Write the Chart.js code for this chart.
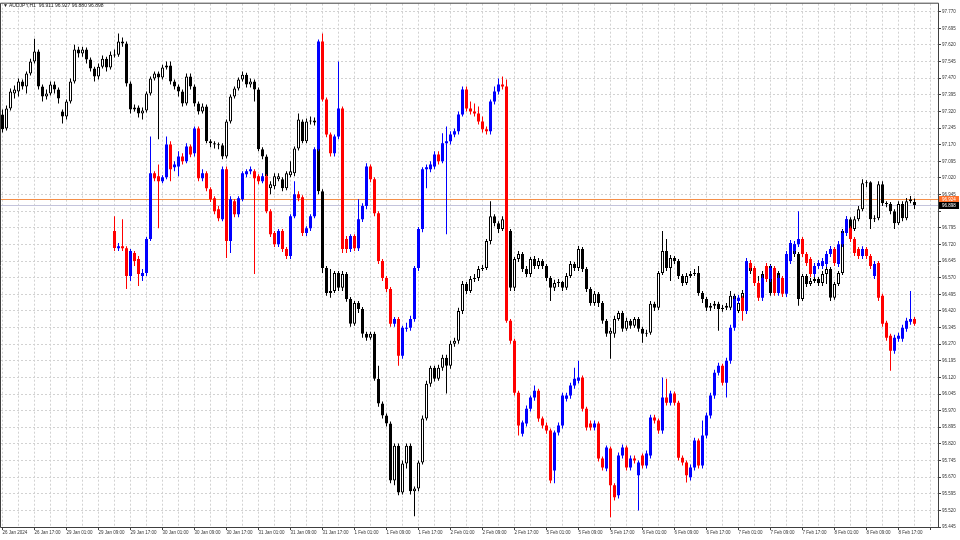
<!DOCTYPE html>
<html>
<head>
<meta charset="utf-8">
<script src="https://cdn.jsdelivr.net/npm/chart.js@4.4.1/dist/chart.umd.min.js"></script>
<style>
  html, body { margin: 0; padding: 0; background: #fff; }
  canvas { display: block; }
</style>
</head>
<body>
<canvas id="chart" width="960" height="540"></canvas>
<script>
// header / price tags
const symbolTitle = 'AUDJPY,H1';
const headerValues = ['96.911', '96.927', '96.880', '96.898'];
const bidPrice = 96.898;
const linePrice = 96.924;

// time axis: one label every 8 bars (H1)
const xLabels = ['26 Jan 2024', '26 Jan 17:00', '29 Jan 01:00', '29 Jan 09:00', '29 Jan 17:00',
    '30 Jan 01:00', '30 Jan 09:00', '30 Jan 17:00', '31 Jan 01:00', '31 Jan 09:00', '31 Jan 17:00',
    '1 Feb 01:00', '1 Feb 09:00', '1 Feb 17:00', '2 Feb 01:00', '2 Feb 09:00', '2 Feb 17:00',
    '5 Feb 01:00', '5 Feb 09:00', '5 Feb 17:00', '6 Feb 01:00', '6 Feb 09:00', '6 Feb 17:00',
    '7 Feb 01:00', '7 Feb 09:00', '7 Feb 17:00', '8 Feb 01:00', '8 Feb 09:00', '8 Feb 17:00'];

// price axis
const yTicks = [95.445, 95.520, 95.595, 95.670, 95.745, 95.820, 95.895, 95.970, 96.045, 96.120,
    96.195, 96.270, 96.345, 96.420, 96.495, 96.570, 96.645, 96.720, 96.795, 96.870, 96.945,
    97.020, 97.095, 97.170, 97.245, 97.320, 97.395, 97.470, 97.545, 97.620, 97.695, 97.770];
const hiddenTickLabels = [96.870];

// AUDJPY H1 candles (black / white)
const barOpen = [
    97.306, 97.243, 97.333, 97.401, 97.410, 97.455, 97.432, 97.491, 97.545, 97.590,
    97.432, 97.387, 97.401, 97.441, 97.419, 97.320, 97.297, 97.365, 97.455, 97.599,
    97.581, 97.599, 97.554, 97.514, 97.477, 97.522, 97.558, 97.518, 97.576, 97.576,
    97.635, 97.626, 97.446, 97.329, 97.338, 97.311, 97.324, 97.401, 97.468, 97.491,
    97.473, 97.518, 97.527, 97.455, 97.432, 97.410, 97.356, 97.477, 97.432, 97.356,
    97.320, 97.342, 97.185, 97.176, 97.171, 97.167, 97.117, 97.275, 97.387, 97.423,
    97.464, 97.486, 97.441, 97.455, 97.419, 97.149, 97.117, 96.973, 96.982, 97.014,
    97.014, 96.973, 97.032, 97.041, 97.153, 97.275, 97.185, 97.275, 97.279, 97.270,
    96.960, 96.614, 96.501, 96.510, 96.591, 96.524, 96.587, 96.474, 96.362, 96.456,
    96.429, 96.317, 96.299, 96.317, 96.114, 96.002, 95.948, 95.912, 95.655, 95.812,
    95.601, 95.732, 95.812, 95.606, 95.619, 95.736, 95.934, 96.091, 96.164, 96.114,
    96.164, 96.209, 96.173, 96.272, 96.285, 96.420, 96.541, 96.510, 96.564, 96.568,
    96.609, 96.614, 96.735, 96.847, 96.816, 96.789, 96.834, 96.780, 96.524, 96.654,
    96.677, 96.609, 96.587, 96.654, 96.623, 96.645, 96.623, 96.568, 96.524, 96.546,
    96.550, 96.524, 96.578, 96.632, 96.614, 96.699, 96.609, 96.519, 96.456, 96.497,
    96.456, 96.375, 96.317, 96.317, 96.384, 96.411, 96.339, 96.375, 96.353, 96.384,
    96.339, 96.317, 96.321, 96.452, 96.434, 96.591, 96.690, 96.614, 96.659, 96.645,
    96.578, 96.546, 96.578, 96.587, 96.591, 96.501, 96.474, 96.434, 96.443, 96.452,
    96.429, 96.434, 96.434, 96.488, 96.420, 96.456, 96.501, 96.636, 96.600, 96.546,
    96.541, 96.587, 96.623, 96.501, 96.591, 96.546, 96.501, 96.677, 96.721, 96.677,
    96.474, 96.578, 96.541, 96.555, 96.564, 96.546, 96.587, 96.609, 96.479, 96.541,
    96.591, 96.780, 96.834, 96.789, 96.834, 96.879, 96.996, 97.000, 96.834, 96.838,
    96.991, 96.906, 96.902, 96.870, 96.816, 96.902, 96.838, 96.915, 96.911];
const barHigh = [
    97.329, 97.347, 97.423, 97.437, 97.468, 97.464, 97.500, 97.558, 97.648, 97.599,
    97.441, 97.419, 97.455, 97.455, 97.428, 97.329, 97.374, 97.468, 97.621, 97.612,
    97.612, 97.608, 97.563, 97.522, 97.536, 97.572, 97.567, 97.590, 97.599, 97.671,
    97.653, 97.635, 97.455, 97.351, 97.347, 97.338, 97.410, 97.477, 97.500, 97.500,
    97.531, 97.545, 97.545, 97.464, 97.441, 97.419, 97.491, 97.491, 97.441, 97.365,
    97.356, 97.351, 97.194, 97.185, 97.180, 97.176, 97.284, 97.396, 97.432, 97.473,
    97.500, 97.495, 97.468, 97.464, 97.428, 97.158, 97.126, 97.005, 97.041, 97.041,
    97.023, 97.050, 97.095, 97.162, 97.311, 97.284, 97.288, 97.297, 97.293, 97.284,
    96.969, 96.623, 96.609, 96.600, 96.600, 96.600, 96.596, 96.483, 96.465, 96.465,
    96.438, 96.326, 96.326, 96.326, 96.173, 96.011, 95.957, 95.921, 95.822, 95.822,
    95.745, 95.822, 95.822, 95.628, 95.745, 95.948, 96.105, 96.173, 96.173, 96.177,
    96.222, 96.222, 96.285, 96.299, 96.434, 96.555, 96.550, 96.578, 96.587, 96.623,
    96.627, 96.744, 96.915, 96.856, 96.825, 96.847, 96.861, 96.789, 96.663, 96.690,
    96.686, 96.623, 96.663, 96.668, 96.659, 96.654, 96.632, 96.578, 96.560, 96.564,
    96.555, 96.591, 96.645, 96.641, 96.713, 96.708, 96.618, 96.528, 96.510, 96.505,
    96.465, 96.384, 96.344, 96.398, 96.420, 96.420, 96.389, 96.384, 96.393, 96.393,
    96.348, 96.335, 96.465, 96.461, 96.600, 96.780, 96.744, 96.672, 96.668, 96.654,
    96.587, 96.591, 96.600, 96.609, 96.623, 96.510, 96.483, 96.456, 96.465, 96.461,
    96.447, 96.456, 96.510, 96.497, 96.470, 96.514, 96.650, 96.645, 96.609, 96.578,
    96.600, 96.636, 96.632, 96.600, 96.600, 96.555, 96.690, 96.735, 96.731, 96.686,
    96.587, 96.587, 96.568, 96.578, 96.573, 96.600, 96.623, 96.618, 96.550, 96.600,
    96.789, 96.847, 96.843, 96.847, 96.893, 97.014, 97.009, 97.005, 96.852, 97.005,
    97.005, 96.915, 96.911, 96.879, 96.915, 96.915, 96.929, 96.938, 96.927];
const barLow = [
    97.225, 97.234, 97.324, 97.378, 97.387, 97.419, 97.401, 97.482, 97.536, 97.419,
    97.365, 97.374, 97.392, 97.401, 97.356, 97.266, 97.284, 97.356, 97.446, 97.563,
    97.567, 97.536, 97.500, 97.455, 97.464, 97.514, 97.500, 97.509, 97.563, 97.567,
    97.612, 97.432, 97.311, 97.320, 97.293, 97.284, 97.315, 97.392, 97.459, 97.194,
    97.464, 97.509, 97.441, 97.419, 97.387, 97.342, 97.347, 97.419, 97.342, 97.306,
    97.311, 97.176, 97.158, 97.153, 97.149, 97.104, 97.108, 97.266, 97.378, 97.414,
    97.455, 97.428, 97.428, 97.365, 97.140, 97.104, 97.014, 96.946, 96.969, 97.005,
    96.960, 96.964, 97.023, 97.027, 97.144, 97.176, 97.176, 97.261, 97.257, 96.946,
    96.591, 96.488, 96.479, 96.501, 96.510, 96.510, 96.461, 96.348, 96.353, 96.411,
    96.299, 96.285, 96.290, 96.105, 95.988, 95.934, 95.898, 95.642, 95.633, 95.588,
    95.592, 95.709, 95.592, 95.493, 95.606, 95.727, 95.925, 96.078, 96.101, 96.105,
    96.150, 96.047, 96.159, 96.258, 96.272, 96.406, 96.496, 96.501, 96.550, 96.555,
    96.600, 96.605, 96.721, 96.802, 96.771, 96.780, 96.766, 96.510, 96.510, 96.641,
    96.596, 96.573, 96.573, 96.609, 96.609, 96.609, 96.555, 96.465, 96.510, 96.528,
    96.510, 96.514, 96.568, 96.600, 96.600, 96.596, 96.505, 96.443, 96.443, 96.438,
    96.362, 96.303, 96.204, 96.299, 96.375, 96.326, 96.330, 96.339, 96.344, 96.326,
    96.276, 96.303, 96.312, 96.420, 96.424, 96.582, 96.600, 96.555, 96.632, 96.564,
    96.532, 96.537, 96.568, 96.578, 96.488, 96.456, 96.420, 96.420, 96.429, 96.330,
    96.416, 96.424, 96.424, 96.406, 96.411, 96.447, 96.492, 96.587, 96.532, 96.528,
    96.532, 96.573, 96.488, 96.492, 96.532, 96.488, 96.492, 96.668, 96.663, 96.443,
    96.465, 96.528, 96.532, 96.546, 96.532, 96.532, 96.541, 96.465, 96.470, 96.532,
    96.582, 96.771, 96.776, 96.780, 96.825, 96.870, 96.978, 96.789, 96.821, 96.829,
    96.893, 96.888, 96.856, 96.789, 96.807, 96.825, 96.829, 96.906, 96.880];
const barClose = [
    97.239, 97.333, 97.410, 97.419, 97.455, 97.432, 97.491, 97.545, 97.590, 97.432,
    97.387, 97.401, 97.441, 97.419, 97.378, 97.297, 97.365, 97.455, 97.599, 97.581,
    97.599, 97.554, 97.514, 97.477, 97.522, 97.558, 97.518, 97.576, 97.572, 97.635,
    97.626, 97.446, 97.329, 97.338, 97.311, 97.324, 97.401, 97.468, 97.491, 97.473,
    97.518, 97.527, 97.455, 97.432, 97.410, 97.356, 97.477, 97.432, 97.356, 97.320,
    97.342, 97.185, 97.176, 97.171, 97.167, 97.117, 97.275, 97.387, 97.423, 97.464,
    97.486, 97.441, 97.455, 97.419, 97.149, 97.117, 97.027, 96.991, 97.027, 97.027,
    96.973, 97.041, 97.050, 97.153, 97.284, 97.185, 97.275, 97.279, 97.270, 96.960,
    96.614, 96.501, 96.510, 96.591, 96.524, 96.587, 96.474, 96.362, 96.456, 96.429,
    96.317, 96.299, 96.317, 96.114, 96.002, 95.948, 95.912, 95.655, 95.812, 95.601,
    95.732, 95.812, 95.606, 95.619, 95.736, 95.934, 96.091, 96.164, 96.114, 96.164,
    96.209, 96.173, 96.272, 96.285, 96.420, 96.541, 96.510, 96.564, 96.568, 96.609,
    96.614, 96.735, 96.847, 96.816, 96.789, 96.834, 96.780, 96.524, 96.654, 96.677,
    96.609, 96.587, 96.654, 96.623, 96.645, 96.623, 96.568, 96.524, 96.546, 96.550,
    96.524, 96.578, 96.632, 96.614, 96.699, 96.609, 96.519, 96.456, 96.497, 96.456,
    96.375, 96.317, 96.330, 96.384, 96.411, 96.339, 96.375, 96.353, 96.384, 96.339,
    96.317, 96.321, 96.452, 96.434, 96.591, 96.690, 96.614, 96.659, 96.645, 96.578,
    96.546, 96.578, 96.587, 96.591, 96.501, 96.474, 96.434, 96.443, 96.452, 96.429,
    96.434, 96.443, 96.488, 96.420, 96.456, 96.501, 96.636, 96.600, 96.546, 96.541,
    96.587, 96.623, 96.501, 96.591, 96.546, 96.501, 96.677, 96.721, 96.677, 96.474,
    96.578, 96.541, 96.555, 96.564, 96.546, 96.587, 96.609, 96.479, 96.541, 96.591,
    96.780, 96.834, 96.789, 96.834, 96.879, 96.996, 97.000, 96.834, 96.838, 96.991,
    96.906, 96.902, 96.870, 96.816, 96.902, 96.838, 96.915, 96.924, 96.898];

// overlay candles (blue / red), first one on bar 28
const overlayStart = 28;
const ovOpen = [
    96.780, 96.703, 96.712, 96.703, 96.578, 96.681, 96.654, 96.578, 96.591, 96.744,
    97.041, 97.027, 97.005, 97.023, 97.171, 97.068, 97.072, 97.117, 97.095, 97.162,
    97.131, 97.243, 97.018, 97.041, 96.969, 96.928, 96.879, 96.834, 97.059, 96.735,
    96.915, 96.856, 96.924, 97.036, 97.050, 97.050, 97.027, 97.005, 97.027, 96.870,
    96.771, 96.721, 96.780, 96.699, 96.668, 96.847, 96.946, 96.933, 96.771, 96.793,
    96.847, 97.149, 97.635, 97.374, 97.216, 97.131, 97.207, 97.333, 96.744, 96.699,
    96.758, 96.703, 96.834, 96.893, 97.072, 97.014, 96.861, 96.645, 96.568, 96.519,
    96.362, 96.384, 96.218, 96.339, 96.344, 96.384, 96.614, 96.789, 97.059, 97.059,
    97.072, 97.126, 97.095, 97.176, 97.185, 97.216, 97.230, 97.306, 97.419, 97.333,
    97.320, 97.311, 97.275, 97.239, 97.230, 97.365, 97.410, 97.441, 97.432, 96.375,
    96.285, 96.051, 95.866, 95.912, 95.979, 96.029, 96.060, 95.934, 95.903, 95.880,
    95.700, 95.871, 95.903, 96.024, 96.038, 96.083, 96.105, 96.119, 95.979, 95.912,
    95.894, 95.912, 95.754, 95.709, 95.799, 95.633, 95.588, 95.768, 95.804, 95.714,
    95.754, 95.678, 95.768, 95.723, 95.768, 95.939, 95.925, 95.880, 96.029, 96.006,
    96.047, 96.006, 95.758, 95.736, 95.669, 95.714, 95.835, 95.723, 95.858, 95.948,
    96.038, 96.141, 96.173, 96.096, 96.195, 96.344, 96.465, 96.479, 96.420, 96.636,
    96.614, 96.546, 96.479, 96.623, 96.564, 96.614, 96.501, 96.568, 96.497, 96.645,
    96.690, 96.721, 96.744, 96.677, 96.654, 96.587, 96.623, 96.623, 96.632, 96.677,
    96.699, 96.632, 96.721, 96.771, 96.793, 96.744, 96.699, 96.668, 96.699, 96.668,
    96.578, 96.636, 96.488, 96.366, 96.308, 96.240, 96.294, 96.294, 96.339, 96.371, 96.384];
const ovHigh = [
    96.847, 96.726, 96.834, 96.712, 96.699, 96.690, 96.668, 96.609, 96.753, 97.207,
    97.050, 97.081, 97.032, 97.207, 97.185, 97.095, 97.140, 97.131, 97.176, 97.171,
    97.252, 97.252, 97.059, 97.050, 96.978, 96.937, 96.893, 97.072, 97.072, 96.937,
    96.924, 96.937, 97.050, 97.059, 97.072, 97.059, 97.036, 97.041, 97.036, 96.879,
    96.780, 96.789, 96.789, 96.708, 96.856, 97.005, 96.960, 96.942, 96.802, 96.856,
    97.158, 97.644, 97.671, 97.383, 97.225, 97.216, 97.545, 97.342, 96.758, 96.766,
    96.766, 96.924, 96.906, 97.086, 97.081, 97.023, 96.870, 96.654, 96.578, 96.528,
    96.393, 96.393, 96.353, 96.366, 96.398, 96.623, 96.798, 97.068, 97.081, 97.095,
    97.140, 97.140, 97.221, 97.252, 97.230, 97.243, 97.320, 97.432, 97.432, 97.365,
    97.356, 97.342, 97.297, 97.252, 97.374, 97.432, 97.468, 97.477, 97.464, 96.384,
    96.294, 96.060, 95.925, 95.993, 96.038, 96.083, 96.069, 95.943, 95.916, 95.889,
    95.880, 95.916, 96.051, 96.051, 96.096, 96.164, 96.195, 96.128, 95.988, 95.925,
    95.925, 95.921, 95.763, 95.813, 95.808, 95.642, 95.781, 95.817, 95.813, 95.768,
    95.768, 95.745, 95.777, 95.790, 95.952, 95.952, 95.934, 96.119, 96.114, 96.060,
    96.056, 96.015, 95.768, 95.745, 95.727, 95.848, 95.844, 95.925, 95.961, 96.051,
    96.155, 96.186, 96.182, 96.209, 96.357, 96.488, 96.492, 96.488, 96.659, 96.650,
    96.623, 96.555, 96.582, 96.636, 96.627, 96.623, 96.582, 96.578, 96.690, 96.740,
    96.735, 96.870, 96.753, 96.686, 96.663, 96.636, 96.650, 96.659, 96.690, 96.713,
    96.708, 96.735, 96.785, 96.847, 96.802, 96.753, 96.708, 96.712, 96.708, 96.677,
    96.645, 96.645, 96.497, 96.375, 96.317, 96.312, 96.321, 96.357, 96.389, 96.510, 96.393];
const ovLow = [
    96.690, 96.690, 96.690, 96.519, 96.555, 96.623, 96.532, 96.555, 96.578, 96.735,
    97.005, 96.793, 96.996, 97.014, 97.005, 97.050, 97.027, 97.081, 97.086, 97.113,
    97.117, 97.005, 97.005, 96.960, 96.911, 96.856, 96.825, 96.825, 96.659, 96.681,
    96.843, 96.843, 96.915, 97.023, 97.036, 96.587, 96.991, 96.996, 96.861, 96.753,
    96.708, 96.708, 96.686, 96.654, 96.654, 96.838, 96.915, 96.758, 96.758, 96.780,
    96.838, 97.140, 97.365, 97.203, 97.117, 97.117, 97.194, 96.681, 96.681, 96.686,
    96.690, 96.690, 96.821, 96.879, 97.000, 96.847, 96.632, 96.555, 96.505, 96.348,
    96.348, 96.173, 96.204, 96.326, 96.330, 96.371, 96.600, 96.775, 96.973, 97.045,
    97.059, 97.081, 97.086, 96.766, 97.171, 97.203, 97.216, 97.297, 97.320, 97.306,
    97.297, 97.261, 97.225, 97.216, 97.216, 97.351, 97.396, 97.419, 96.366, 96.272,
    96.038, 95.858, 95.853, 95.898, 95.966, 96.015, 95.920, 95.889, 95.866, 95.642,
    95.642, 95.858, 95.889, 96.011, 96.024, 96.069, 96.092, 95.966, 95.880, 95.880,
    95.880, 95.741, 95.700, 95.696, 95.489, 95.565, 95.574, 95.754, 95.700, 95.700,
    95.732, 95.520, 95.709, 95.709, 95.754, 95.912, 95.866, 95.866, 95.993, 95.993,
    95.993, 95.745, 95.723, 95.646, 95.655, 95.700, 95.709, 95.709, 95.844, 95.934,
    96.024, 96.128, 96.083, 96.029, 96.182, 96.330, 96.452, 96.375, 96.406, 96.600,
    96.532, 96.465, 96.465, 96.550, 96.550, 96.488, 96.488, 96.483, 96.483, 96.632,
    96.677, 96.708, 96.663, 96.623, 96.573, 96.573, 96.609, 96.609, 96.618, 96.663,
    96.623, 96.618, 96.708, 96.758, 96.731, 96.668, 96.654, 96.654, 96.654, 96.609,
    96.564, 96.465, 96.348, 96.285, 96.150, 96.227, 96.281, 96.281, 96.326, 96.357, 96.353];
const ovClose = [
    96.704, 96.712, 96.703, 96.578, 96.690, 96.645, 96.587, 96.591, 96.744, 97.041,
    97.018, 97.005, 97.023, 97.171, 97.059, 97.081, 97.117, 97.095, 97.162, 97.126,
    97.243, 97.018, 97.041, 96.973, 96.924, 96.870, 96.838, 97.059, 96.735, 96.924,
    96.856, 96.928, 97.041, 97.050, 97.059, 97.018, 97.005, 97.027, 96.870, 96.766,
    96.721, 96.780, 96.699, 96.668, 96.847, 96.946, 96.928, 96.771, 96.793, 96.847,
    97.149, 97.635, 97.374, 97.216, 97.131, 97.207, 97.333, 96.699, 96.699, 96.758,
    96.703, 96.834, 96.893, 97.072, 97.014, 96.861, 96.645, 96.568, 96.519, 96.362,
    96.384, 96.218, 96.344, 96.344, 96.384, 96.614, 96.789, 97.059, 97.068, 97.081,
    97.126, 97.095, 97.176, 97.185, 97.216, 97.230, 97.306, 97.419, 97.333, 97.320,
    97.311, 97.275, 97.239, 97.230, 97.365, 97.410, 97.441, 97.432, 96.375, 96.285,
    96.051, 95.903, 95.916, 95.979, 96.029, 96.060, 95.934, 95.903, 95.880, 95.655,
    95.871, 95.903, 96.038, 96.038, 96.083, 96.114, 96.119, 95.979, 95.894, 95.894,
    95.912, 95.754, 95.714, 95.804, 95.633, 95.579, 95.768, 95.804, 95.714, 95.754,
    95.745, 95.736, 95.723, 95.777, 95.939, 95.925, 95.880, 96.029, 96.006, 96.047,
    96.006, 95.758, 95.736, 95.678, 95.714, 95.835, 95.723, 95.858, 95.948, 96.038,
    96.141, 96.173, 96.096, 96.195, 96.344, 96.474, 96.479, 96.420, 96.645, 96.614,
    96.546, 96.479, 96.568, 96.564, 96.614, 96.501, 96.568, 96.497, 96.677, 96.726,
    96.721, 96.744, 96.677, 96.636, 96.587, 96.623, 96.636, 96.645, 96.677, 96.699,
    96.636, 96.721, 96.771, 96.834, 96.744, 96.681, 96.668, 96.699, 96.668, 96.623,
    96.632, 96.479, 96.362, 96.299, 96.240, 96.299, 96.308, 96.344, 96.375, 96.384, 96.362];

const axisFont = { family: 'Liberation Sans', size: 4.5 };
const textColor = '#333333';
const gridColor = '#d2d2d2';

// candle pieces
const blackWicks = barOpen.map((o, i) => ({ x: i, y: [barLow[i], barHigh[i]] }));
const blackBodies = barOpen.map((o, i) => ({ x: i, y: [o, barClose[i]] }));
const blackFill = barOpen.map((o, i) => barClose[i] >= o ? '#ffffff' : '#000000');

const ovWicks = ovOpen.map((o, k) => ({ x: overlayStart + k, y: [ovLow[k], ovHigh[k]] }));
const ovBodies = ovOpen.map((o, k) => ({ x: overlayStart + k, y: [o, ovClose[k]] }));
const ovColors = ovOpen.map((o, k) => ovClose[k] >= o ? '#0000ff' : '#ff0000');

const decorations = {
    id: 'decorations',
    beforeDatasetsDraw(chart) {
        const { ctx, chartArea: a, scales: { y } } = chart;
        ctx.save();
        ctx.lineWidth = 1;
        let py = Math.round(y.getPixelForValue(bidPrice)) + 0.5;
        ctx.strokeStyle = '#c4c4dc';
        ctx.beginPath(); ctx.moveTo(a.left, py); ctx.lineTo(a.right, py); ctx.stroke();
        py = Math.round(y.getPixelForValue(linePrice)) + 0.5;
        ctx.strokeStyle = '#f5904a';
        ctx.beginPath(); ctx.moveTo(a.left, py); ctx.lineTo(a.right, py); ctx.stroke();
        ctx.restore();
    },
    afterDraw(chart) {
        const { ctx, chartArea: a, scales: { y } } = chart;
        ctx.save();
        // frame
        ctx.strokeStyle = '#404040';
        ctx.lineWidth = 1;
        ctx.beginPath();
        ctx.moveTo(0.5, a.bottom + 0.5);
        ctx.lineTo(0.5, a.top - 0.5);
        ctx.lineTo(a.right + 0.5, a.top - 0.5);
        ctx.lineTo(a.right + 0.5, a.bottom + 0.5);
        ctx.lineTo(0.5, a.bottom + 0.5);
        ctx.stroke();

        // header
        ctx.fillStyle = '#222';
        ctx.textBaseline = 'middle';
        ctx.font = '5px "Liberation Sans"';
        ctx.fillText('\u25BC', 3, 6);
        ctx.fillText(symbolTitle + '  ' + headerValues.join(' '), 9, 6);

        // price tags
        const tag = (price, bg, fg) => {
            const py = Math.round(y.getPixelForValue(price));
            ctx.fillStyle = bg;
            ctx.fillRect(a.right + 1, py - 3, 20, 7);
            ctx.fillStyle = fg;
            ctx.font = '4.5px "Liberation Sans"';
            ctx.fillText(price.toFixed(3), a.right + 4, py + 0.5);
        };
        tag(linePrice, '#ff6e28', '#ffffff');
        tag(bidPrice, '#000000', '#ffffff');
        ctx.restore();
    }
};

new Chart(document.getElementById('chart').getContext('2d'), {
    type: 'bar',
    data: {
        datasets: [
            { data: blackWicks, backgroundColor: '#000000', barThickness: 1, order: 4 },
            { data: blackBodies, backgroundColor: blackFill, borderColor: '#000000', borderWidth: 1,
              borderSkipped: false, barThickness: 3, minBarLength: 1, order: 3 },
            { data: ovWicks, backgroundColor: ovColors, barThickness: 1, order: 2 },
            { data: ovBodies, backgroundColor: ovColors, barThickness: 3, minBarLength: 1, order: 1 }
        ]
    },
    options: {
        responsive: false,
        animation: false,
        devicePixelRatio: 1,
        layout: { padding: { left: 1, top: 2, right: 0, bottom: 0 } },
        datasets: { bar: { grouped: false, inflateAmount: 0 } },
        plugins: { legend: { display: false }, tooltip: { enabled: false } },
        scales: {
            x: {
                type: 'linear',
                min: -0.375,
                max: 233.875,
                bounds: 'data',
                offset: false,
                afterBuildTicks: s => {
                    const t = [];
                    for (let i = 0; i <= 232; i += 4) t.push({ value: i });
                    s.ticks = t;
                },
                afterFit: s => { s.height = 13; },
                ticks: {
                    autoSkip: false, maxRotation: 0, minRotation: 0, align: 'start', padding: 0,
                    font: axisFont, color: textColor,
                    callback: v => (v % 8 === 0 ? (xLabels[v / 8] || '') : '')
                },
                grid: {
                    offset: false, color: gridColor, tickLength: 3, tickBorderDash: [],
                    tickColor: c => (c.tick && c.tick.value % 8 === 0 ? '#404040' : 'rgba(0,0,0,0)')
                },
                border: { display: false, dash: [2, 2] }
            },
            y: {
                position: 'right',
                min: 95.445,
                max: 97.806,
                bounds: 'data',
                stacked: false,
                afterBuildTicks: s => { s.ticks = yTicks.map(v => ({ value: v })); },
                afterFit: s => { s.width = 22; },
                ticks: {
                    autoSkip: false, padding: 1, font: axisFont, color: textColor,
                    callback: v => (hiddenTickLabels.some(h => Math.abs(h - v) < 1e-6) ? '' : v.toFixed(3))
                },
                grid: { color: gridColor, tickLength: 3, tickBorderDash: [], tickColor: '#404040' },
                border: { display: false, dash: [2, 2] }
            }
        }
    },
    plugins: [decorations]
});
</script>
</body>
</html>
